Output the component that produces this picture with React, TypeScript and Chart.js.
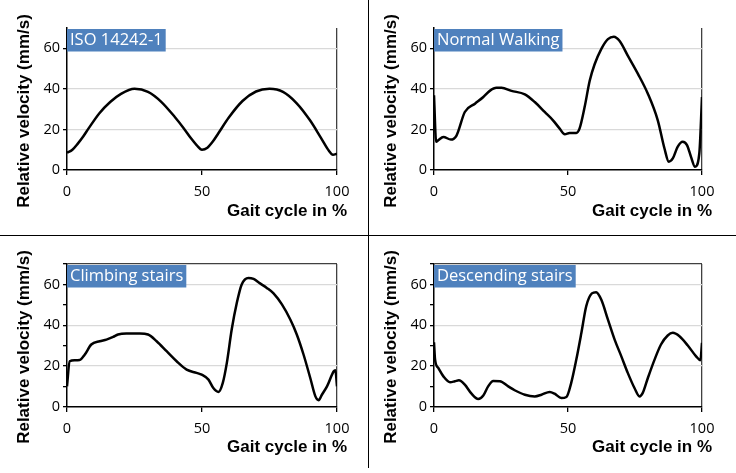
import React, { useEffect, useRef } from "react";
import { Chart, registerables } from "chart.js";

Chart.register(...registerables);

// ---------- Data ----------
const panelTitles = ["ISO 14242-1", "Normal Walking", "Climbing stairs", "Descending stairs"];
const xAxisTitle = "Gait cycle in %";
const yAxisTitle = "Relative velocity (mm/s)";
const yMin = 0;
const yMax = 70;
const yStep = 10;
const yLabelEvery = 20;
const xMin = 0;
const xMax = 100;
const xStep = 50;

const isoX = [0, 2, 4, 6, 8, 12, 16, 20, 25, 30, 35, 40, 43, 46, 48, 50, 52, 54, 56, 60, 65, 70, 75, 80, 85, 90, 94, 97, 98.5, 100];
const isoY = [8.5, 10, 13, 16.5, 20.5, 28, 33.5, 37.5, 40, 38.5, 33.5, 26, 21, 15.5, 12.3, 10, 11, 14, 18, 26, 34, 38.7, 40, 38.5, 33, 24.5, 16, 9.5, 7.5, 8];

const walkX = [0, 0.8, 1.6, 3.5, 6.3, 8.4, 11.5, 15.3, 18.4, 20.8, 23.3, 25.2, 28.9, 33.9, 37.6, 41.3, 44.4, 46.9, 48.8, 50.6, 53.1, 54.3, 56.2, 58.1, 59.9, 62.4, 64.9, 67.1, 69.2, 72.3, 76.1, 79.8, 83.5, 86, 87.6, 89.1, 90.9, 92.8, 94.4, 95.9, 97.4, 99, 100];
const walkY = [36.8, 13.9, 14.7, 16.3, 15, 17, 28.6, 32.7, 36, 39, 40.5, 40.5, 39, 37.3, 33.5, 28.6, 24.5, 20.4, 17.6, 18.3, 18.3, 20.4, 31, 44, 52, 59.6, 64.5, 65.7, 63.7, 56.4, 47.4, 37.6, 24.5, 10.6, 4.1, 5.7, 11.4, 13.9, 12.3, 6.5, 1.6, 8.2, 36];

const climbX = [0, 1, 2.8, 4.7, 6.6, 9, 12.1, 14.6, 17.1, 18.9, 22, 27, 30, 33.2, 36.9, 40.6, 44.3, 48, 49.9, 52.4, 54.2, 56.1, 57.7, 59.2, 61, 62.9, 64.7, 67.2, 69.1, 71.5, 74, 76.5, 79.6, 82.7, 85.1, 87.6, 90.1, 92, 93.2, 94.4, 96.3, 98.8, 99.4, 100];
const climbY = [10.1, 22.4, 22.9, 23, 25.7, 30.6, 32.2, 33, 34.3, 35.5, 36, 36, 35.5, 32.2, 27.3, 22.4, 18.3, 16.7, 15.8, 13.4, 9.3, 7.4, 11.8, 21.6, 37.9, 51, 60, 63.2, 62.7, 60.5, 58.3, 55.6, 50.2, 42.8, 35.5, 25.7, 14.2, 5.2, 3.3, 6, 10.1, 17.5, 18, 10.1];

const descX = [0, 0.4, 1.6, 3.5, 6, 7.8, 9.3, 11.5, 14, 16.5, 18.4, 20.2, 22.1, 24.6, 27.7, 30.1, 33.9, 37.6, 40.1, 43.2, 45, 47.5, 49.4, 51.2, 53.1, 55, 56.8, 58.9, 60.5, 62.4, 64.9, 67.4, 69.9, 72.3, 74.8, 76.7, 77.9, 79.8, 82.3, 84.7, 87.2, 89.1, 91.6, 94.7, 97.8, 99.4, 100];
const descY = [31.7, 23.2, 19.1, 15, 12.1, 12.6, 13.1, 10.9, 6.5, 3.9, 5.6, 10.1, 12.7, 12.6, 10.1, 8.2, 6, 5.2, 6, 7.4, 6.5, 4.4, 4.9, 11.8, 23.2, 36.3, 49.3, 55.6, 56.2, 52.6, 42.8, 33, 24.8, 16.7, 9.3, 5.2, 6.9, 14.2, 23.2, 30.6, 35, 36.3, 34.6, 30.1, 24.8, 22.9, 31.4];

const seriesX = [isoX, walkX, climbX, descX];
const seriesY = [isoY, walkY, climbY, descY];

// ---------- Layout ----------
const panels = [
  { left: 0, top: 0, w: 368, h: 235, axisW: 67, padR: 31, axisH: 65 },
  { left: 368, top: 0, w: 368, h: 235, axisW: 66, padR: 34, axisH: 65 },
  { left: 0, top: 236, w: 368, h: 237, axisW: 67, padR: 31, axisH: 66 },
  { left: 368, top: 236, w: 368, h: 237, axisW: 66, padR: 34, axisH: 66 },
];

const labelFont = "16.5px 'Open Sans'";
const titleFont = "bold 17px 'Liberation Sans', Arial, sans-serif";
const tickFontFamily = "'Open Sans'";

function Panel({ idx }: { idx: number }) {
  const ref = useRef<HTMLCanvasElement | null>(null);
  const p = panels[idx];
  useEffect(() => {
    const canvas = ref.current!;
    const data = seriesX[idx].map((x, i) => ({ x, y: seriesY[idx][i] }));
    const deco = {
      id: "deco" + idx,
      afterDraw(chart: any) {
        const ctx = chart.ctx;
        const a = chart.chartArea;
        ctx.save();
        // label box
        ctx.font = labelFont;
        const tw = ctx.measureText(panelTitles[idx]).width;
        ctx.fillStyle = "#4F81BD";
        ctx.fillRect(a.left, a.top + 1, tw + 6, 22.5);
        ctx.fillStyle = "#ffffff";
        ctx.textBaseline = "middle";
        ctx.textAlign = "left";
        ctx.fillText(panelTitles[idx], a.left + 3, a.top + 12.5);
        // axis titles
        ctx.fillStyle = "#000000";
        ctx.font = titleFont;
        ctx.textAlign = "right";
        ctx.fillText(xAxisTitle, a.right + 10, 211);
        ctx.translate(idx % 2 === 0 ? 24 : 23, 111);
        ctx.rotate(-Math.PI / 2);
        ctx.textAlign = "center";
        ctx.fillText(yAxisTitle, 0, 0);
        ctx.restore();
      },
    };
    const chart = new Chart(canvas, {
      type: "line",
      data: {
        datasets: [
          {
            data,
            borderColor: "#000000",
            borderWidth: 2.5,
            pointRadius: 0,
            fill: false,
            cubicInterpolationMode: "monotone",
          },
        ],
      },
      options: {
        animation: false,
        responsive: false,
        devicePixelRatio: 1,
        layout: { padding: { left: 0, top: 28, right: p.padR, bottom: 0 } },
        plugins: { legend: { display: false }, tooltip: { enabled: false } },
        scales: {
          x: {
            type: "linear",
            min: xMin,
            max: xMax,
            afterFit: (s: any) => {
              s.height = p.axisH;
            },
            ticks: {
              stepSize: xStep,
              padding: 8,
              color: "#000000",
              font: { family: tickFontFamily, size: 14.5 },
              maxRotation: 0,
            },
            grid: {
              color: (c: any) => (c.tick && c.tick.value === xMax ? "#404040" : "rgba(0,0,0,0)"),
              tickColor: "#000000",
              tickLength: 5,
              lineWidth: 1.3,
            },
            border: { color: "#000000", width: 1.5 },
          },
          y: {
            type: "linear",
            min: yMin,
            max: yMax,
            afterFit: (s: any) => {
              s.width = p.axisW;
            },
            ticks: {
              stepSize: yStep,
              padding: 3,
              color: "#000000",
              font: { family: tickFontFamily, size: 14.5 },
              callback: (v: any) => (Number(v) % yLabelEvery === 0 ? String(v) : ""),
            },
            grid: {
              color: (c: any) => {
                const v = c.tick ? c.tick.value : 0;
                if (v === yMax) return "#404040";
                if (v !== 0 && v % yLabelEvery === 0) return "#d9d9d9";
                return "rgba(0,0,0,0)";
              },
              lineWidth: 1.3,
              tickColor: "#000000",
              tickLength: 4,
            },
            border: { color: "#000000", width: 1.5 },
          },
        },
      },
      plugins: [deco],
    } as any);
    return () => chart.destroy();
  }, [idx]);
  return (
    <div style={{ position: "absolute", left: p.left, top: p.top, width: p.w, height: p.h }}>
      <canvas ref={ref} width={p.w} height={p.h} style={{ width: p.w, height: p.h, display: "block" }} />
    </div>
  );
}

export default function App() {
  return (
    <div style={{ position: "fixed", left: 0, top: 0, width: 736, height: 473, background: "#ffffff", overflow: "hidden" }}>
      {[0, 1, 2, 3].map((i) => (
        <Panel key={i} idx={i} />
      ))}
      <div style={{ position: "absolute", left: 367.5, top: 0, width: 1.5, height: 468, background: "#000" }} />
      <div style={{ position: "absolute", left: 0, top: 234.5, width: 736, height: 1.5, background: "#000" }} />
    </div>
  );
}
